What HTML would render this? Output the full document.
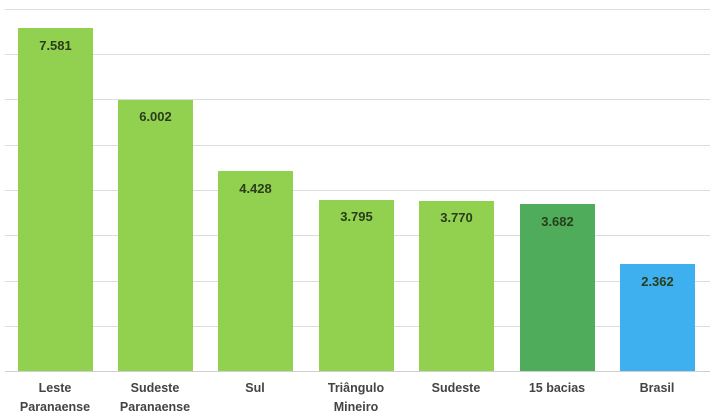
<!DOCTYPE html>
<html><head><style>
body{margin:0;width:715px;height:417px;background:#fff;overflow:hidden;position:relative;font-family:"Liberation Sans",sans-serif}
.g{position:absolute;left:5px;width:705px;height:1px;background:#dcdcdc}
.b{position:absolute;width:75px;bottom:46px}
.v{position:absolute;width:75px;text-align:center;font-weight:bold;font-size:13px;color:#2a3d1a}
.c{position:absolute;width:100px;text-align:center;font-weight:bold;font-size:12.5px;color:#444;line-height:19px;top:379px}
</style></head><body>
<div class="g" style="top:9px"></div><div class="g" style="top:54px"></div><div class="g" style="top:99px"></div><div class="g" style="top:145px"></div><div class="g" style="top:190px"></div><div class="g" style="top:235px"></div><div class="g" style="top:281px"></div><div class="g" style="top:326px"></div><div class="g" style="top:371px;background:#cfcfcf"></div>
<div class="b" style="left:18px;top:28px;height:343px;background:#92d050"></div>
<div class="b" style="left:118px;top:100px;height:271px;background:#92d050"></div>
<div class="b" style="left:218px;top:171px;height:200px;background:#92d050"></div>
<div class="b" style="left:319px;top:200px;height:171px;background:#92d050"></div>
<div class="b" style="left:419px;top:201px;height:170px;background:#92d050"></div>
<div class="b" style="left:520px;top:204px;height:167px;background:#4eac5b"></div>
<div class="b" style="left:620px;top:264px;height:107px;background:#3fb0ef"></div>
<div class="v" style="left:18px;top:38px">7.581</div>
<div class="v" style="left:118px;top:109px">6.002</div>
<div class="v" style="left:218px;top:181px">4.428</div>
<div class="v" style="left:319px;top:209px">3.795</div>
<div class="v" style="left:419px;top:210px">3.770</div>
<div class="v" style="left:520px;top:214px">3.682</div>
<div class="v" style="left:620px;top:274px">2.362</div>
<div class="c" style="left:5px">Leste<br>Paranaense</div>
<div class="c" style="left:105px">Sudeste<br>Paranaense</div>
<div class="c" style="left:205px">Sul</div>
<div class="c" style="left:306px">Triângulo<br>Mineiro</div>
<div class="c" style="left:406px">Sudeste</div>
<div class="c" style="left:507px">15 bacias</div>
<div class="c" style="left:607px">Brasil</div>
</body></html>
